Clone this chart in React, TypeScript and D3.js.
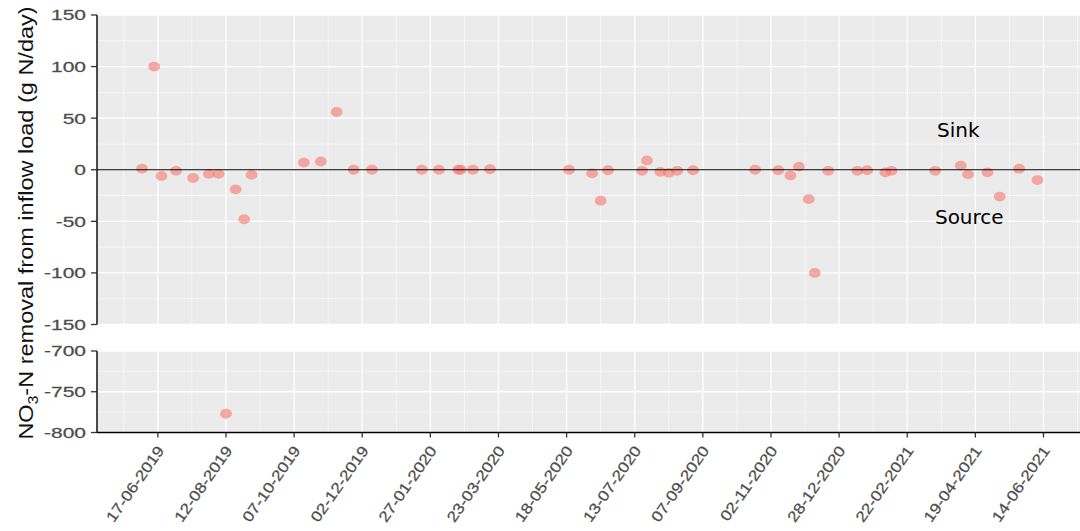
import React from "react";
import * as d3 from "d3";

// Sampling dates and NO3-N removal (g N/day); positive = sink, negative = source
const sampleDates = [
  "2019-06-04", "2019-06-14", "2019-06-20", "2019-07-02", "2019-07-16", "2019-07-29",
  "2019-08-06", "2019-08-12", "2019-08-20", "2019-08-27", "2019-09-02", "2019-10-15",
  "2019-10-29", "2019-11-11", "2019-11-25", "2019-12-10", "2020-01-20", "2020-02-03",
  "2020-02-19", "2020-02-21", "2020-03-02", "2020-03-16", "2020-05-20", "2020-06-08",
  "2020-06-15", "2020-06-21", "2020-07-19", "2020-07-23", "2020-08-03", "2020-08-10",
  "2020-08-17", "2020-08-30", "2020-10-20", "2020-11-08", "2020-11-18", "2020-11-25",
  "2020-12-03", "2020-12-08", "2020-12-19", "2021-01-12", "2021-01-20", "2021-02-04",
  "2021-02-09", "2021-03-17", "2021-04-07", "2021-04-13", "2021-04-29", "2021-05-09",
  "2021-05-25", "2021-06-09",
];
const removalValues = [
  1, 100, -6, -1, -8, -4, -4, -777, -19, -48,
  -5, 7, 8, 56, 0, 0, 0, 0, 0, 0,
  0, 0.5, 0, -3.5, -30, -0.5, -1, 9, -2, -3,
  -1, -0.5, 0, -0.5, -5.5, 3, -28.5, -100, -1, -1,
  -0.5, -2.5, -1, -1, 4, -4.5, -2.5, -26, 1, -10,
];

const xTickLabels = [
  "17-06-2019", "12-08-2019", "07-10-2019", "02-12-2019", "27-01-2020", "23-03-2020",
  "18-05-2020", "13-07-2020", "07-09-2020", "02-11-2020", "28-12-2020", "22-02-2021",
  "19-04-2021", "14-06-2021",
];
const upperTicks = [150, 100, 50, 0, -50, -100, -150];
const lowerTicks = [-700, -750, -800];
const upperDomain = [-150, 150];
const lowerDomain = [-800, -700];
const xDomain = ["2019-04-28", "2021-07-14"];

const annotations = [
  { label: "Sink", date: "2021-04-05", value: 31.5 },
  { label: "Source", date: "2021-04-14", value: -53 },
];

const W = 1080;
const H = 531;
const LEFT = 97;
const RIGHT = 1080;
const UPPER = { top: 15, bottom: 324.5 };
const LOWER = { top: 351, bottom: 432.5 };

const parseIso = d3.utcParse("%Y-%m-%d");
const parseTick = d3.utcParse("%d-%m-%Y");

const PANEL_BG = "#EBEBEB";
const POINT = "#F8766D";
const TICK_TEXT = "#4D4D4D";
const TICK_FONT = "'Liberation Sans', Arial, sans-serif";

export default function App() {
  const x = d3
    .scaleUtc()
    .domain(xDomain.map((d) => parseIso(d) as Date))
    .range([LEFT, RIGHT]);
  const yUp = d3.scaleLinear().domain(upperDomain).range([UPPER.bottom, UPPER.top]);
  const yLo = d3.scaleLinear().domain(lowerDomain).range([LOWER.bottom, LOWER.top]);

  const tickDates = xTickLabels.map((t) => parseTick(t) as Date);
  const minorDates: Date[] = [];
  tickDates.forEach((d, i) => {
    if (i === 0) minorDates.push(d3.utcDay.offset(d, -28));
    minorDates.push(d3.utcDay.offset(d, 28));
  });

  const points = sampleDates.map((d, i) => ({ date: parseIso(d) as Date, value: removalValues[i] }));
  const upperPts = points.filter((p) => p.value >= upperDomain[0]);
  const lowerPts = points.filter((p) => p.value < upperDomain[0]);

  const minorValues = (ticks: number[]) =>
    ticks.slice(1).map((t, i) => (t + ticks[i]) / 2);

  const panel = (
    y: d3.ScaleLinear<number, number>,
    box: { top: number; bottom: number },
    ticks: number[],
    pts: { date: Date; value: number }[],
    key: string
  ) => (
    <g key={key}>
      <rect x={LEFT} y={box.top} width={RIGHT - LEFT} height={box.bottom - box.top} fill={PANEL_BG} />
      {minorValues(ticks).map((v) => (
        <line key={"hm" + v} x1={LEFT} x2={RIGHT} y1={y(v)} y2={y(v)} stroke="#fff" strokeWidth={0.6} />
      ))}
      {minorDates.map((d, i) => (
        <line key={"vm" + i} x1={x(d)} x2={x(d)} y1={box.top} y2={box.bottom} stroke="#fff" strokeWidth={0.6} />
      ))}
      {ticks.map((v) => (
        <line key={"h" + v} x1={LEFT} x2={RIGHT} y1={y(v)} y2={y(v)} stroke="#fff" strokeWidth={1.3} />
      ))}
      {tickDates.map((d, i) => (
        <line key={"v" + i} x1={x(d)} x2={x(d)} y1={box.top} y2={box.bottom} stroke="#fff" strokeWidth={1.3} />
      ))}
      {pts.map((p, i) => (
        <ellipse key={"p" + i} cx={x(p.date)} cy={y(p.value)} rx={5.9} ry={4.9} fill={POINT} fillOpacity={0.6} />
      ))}
      <line x1={LEFT} x2={LEFT} y1={box.top} y2={box.bottom} stroke="#000" strokeWidth={1.4} />
      {ticks.map((v) => (
        <g key={"t" + v}>
          <line x1={LEFT - 6} x2={LEFT} y1={y(v)} y2={y(v)} stroke="#333" strokeWidth={1.3} />
          <text
            transform={`translate(${LEFT - 11},${y(v)}) scale(1.4,1)`}
            textAnchor="end"
            dominantBaseline="central"
            fontFamily={TICK_FONT}
            fontSize={15}
            fill={TICK_TEXT}
            stroke={TICK_TEXT}
            strokeWidth={0.25}
          >
            {v}
          </text>
        </g>
      ))}
    </g>
  );

  return (
    <svg width={W} height={H} style={{ position: "absolute", left: 0, top: 0, background: "#fff" }}>
      {panel(yUp, UPPER, upperTicks, upperPts, "upper")}
      {panel(yLo, LOWER, lowerTicks, lowerPts, "lower")}

      {/* zero reference line separating sink from source */}
      <line x1={LEFT} x2={RIGHT} y1={yUp(0)} y2={yUp(0)} stroke="#000" strokeWidth={1.1} />

      {annotations.map((a) => (
        <text
          key={a.label}
          x={x(parseIso(a.date) as Date)}
          y={yUp(a.value)}
          textAnchor="middle"
          fontFamily="'DejaVu Sans', Verdana, sans-serif"
          fontSize={20}
          fill="#000"
        >
          {a.label}
        </text>
      ))}

      {/* shared date axis */}
      <line x1={LEFT} x2={RIGHT} y1={LOWER.bottom} y2={LOWER.bottom} stroke="#000" strokeWidth={1.4} />
      {tickDates.map((d, i) => (
        <g key={"xt" + i}>
          <line x1={x(d)} x2={x(d)} y1={LOWER.bottom} y2={LOWER.bottom + 5} stroke="#333" strokeWidth={1.3} />
          <text
            transform={`translate(${x(d) + 7},${LOWER.bottom + 18}) rotate(-55) scale(1.16,1)`}
            textAnchor="end"
            fontFamily={TICK_FONT}
            fontSize={15}
            fill={TICK_TEXT}
            stroke={TICK_TEXT}
            strokeWidth={0.25}
          >
            {xTickLabels[i]}
          </text>
        </g>
      ))}

      <text
        transform={`translate(33,223) rotate(-90) scale(1.12,1)`}
        textAnchor="middle"
        fontFamily={TICK_FONT}
        fontSize={21}
        fill="#111"
      >
        NO
        <tspan fontSize={14} dy={5}>3</tspan>
        <tspan dy={-5}>-N removal from inflow load (g N/day)</tspan>
      </text>
    </svg>
  );
}
